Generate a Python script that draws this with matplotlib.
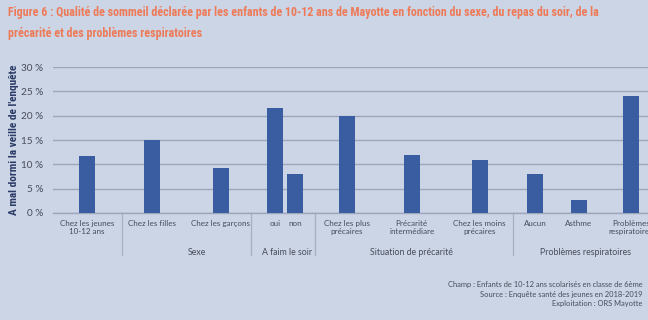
import matplotlib
matplotlib.use("Agg")
import matplotlib.pyplot as plt
from matplotlib import font_manager

# ---- data ----
categories = ["Chez les jeunes\n10-12 ans", "Chez les filles", "Chez les garçons",
              "oui", "non",
              "Chez les plus\nprécaires", "Précarité\nintermédiare", "Chez les moins\nprécaires",
              "Aucun", "Asthme", "Problèmes\nrespiratoires"]
values = [11.7, 15.0, 9.2, 21.6, 8.1, 19.9, 11.9, 10.8, 8.1, 2.7, 24.1]
groups = ["Sexe", "A faim le soir", "Situation de précarité", "Problèmes respiratoires"]
yticks = [0, 5, 10, 15, 20, 25, 30]
ytick_labels = ["0 %", "5 %", "10 %", "15 %", "20 %", "25 %", "30 %"]

title = ("Figure 6 : Qualité de sommeil déclarée par les enfants de 10-12 ans de Mayotte en fonction du sexe, du repas du soir, de la\n"
         "précarité et des problèmes respiratoires")
ylabel = "A mal dormi la veille de l'enquête"
footer = ["Champ : Enfants de 10-12 ans scolarisés en classe de 6ème",
          "Source : Enquête santé des jeunes en 2018-2019",
          "Exploitation : ORS Mayotte"]

# ---- layout (horizontal positions of category slots, in slot units) ----
x_pos = [0.0, 0.985, 2.03, 2.85, 3.15, 3.94, 4.92, 5.95, 6.79, 7.45, 8.24]
sep_pos = [0.53, 2.49, 3.45, 6.45]
group_centers = [1.66, 3.03, 4.92, 7.55]
xmin, xmax = -0.515, 8.5
bar_w = 0.245

bg = "#CBD5E6"
bar_col = "#3A5DA2"
grid_col = "#9EA7BA"
title_col = "#EE7A58"
text_col = "#474C59"

avail = {f.name for f in font_manager.fontManager.ttflist}
narrow = [f for f in ["Liberation Sans Narrow", "Roboto Condensed", "Open Sans Condensed"] if f in avail]
narrow_family = narrow + ["Liberation Sans", "DejaVu Sans"]
body_family = ["Lato", "DejaVu Sans"]

fig = plt.figure(figsize=(6.48, 3.2), dpi=100, facecolor=bg)
W, H = 648, 320
ax = fig.add_axes([53 / W, 1 - 213 / H, 1 - 53 / W, (213 - 67) / H])
ax.set_facecolor(bg)

ax.bar(x_pos, values, width=bar_w, color=bar_col, zorder=3)
ax.set_xlim(xmin, xmax)
ax.set_ylim(0, 30)
ax.set_yticks(yticks)
ax.set_yticklabels(ytick_labels, family=body_family, fontsize=7.2, color=text_col)
ax.tick_params(axis="y", length=0, pad=7)
ax.grid(axis="y", color=grid_col, linewidth=1.0, zorder=0)
ax.set_xticks(x_pos)
ax.set_xticklabels(categories, family=body_family, fontsize=5.8, color=text_col, linespacing=1.25)
ax.tick_params(axis="x", length=0, pad=5)
for s in ["top", "right", "left"]:
    ax.spines[s].set_visible(False)
ax.spines["bottom"].set_color(grid_col)
ax.spines["bottom"].set_linewidth(1.0)

trans = ax.get_xaxis_transform()
for sp in sep_pos:
    ax.plot([sp, sp], [0, -0.29], transform=trans, color="#A8AFBE", linewidth=0.9, clip_on=False)
for gc, g in zip(group_centers, groups):
    ax.text(gc, -0.27, g, transform=trans, ha="center", va="center",
            family=body_family, fontsize=6.3, color=text_col)

fig.text(8 / W, 1 - 6 / H, title, ha="left", va="top", family=narrow_family,
         fontweight="bold", fontsize=8.65, color=title_col, linespacing=1.75)
fig.text(14 / W, 1 - 140 / H, ylabel, rotation=90, ha="center", va="center",
         family=narrow_family, fontweight="bold", fontsize=8.2, color="#2C3B66")

for i, line in enumerate(footer):
    fig.text(643 / W, 1 - (285 + i * 9.3) / H, line, ha="right", va="center",
             family=body_family, fontsize=5.4, color=text_col)

fig.savefig("out.png", dpi=100, facecolor=bg)
